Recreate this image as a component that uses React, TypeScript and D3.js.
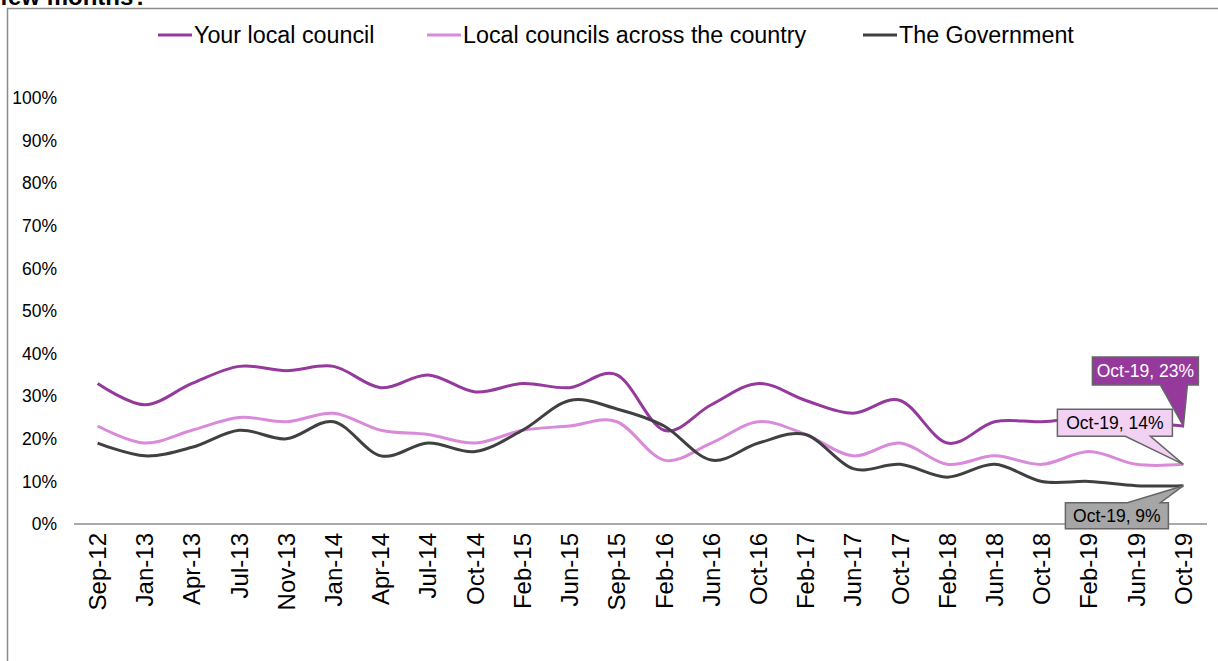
import React from "react";
import * as d3 from "d3";

const categories = ["Sep-12","Jan-13","Apr-13","Jul-13","Nov-13","Jan-14","Apr-14","Jul-14","Oct-14","Feb-15","Jun-15","Sep-15","Feb-16","Jun-16","Oct-16","Feb-17","Jun-17","Oct-17","Feb-18","Jun-18","Oct-18","Feb-19","Jun-19","Oct-19"];
const yourLocalCouncil = [33,28,33,37,36,37,32,35,31,33,32,35,22,28,33,29,26,29,19,24,24,25,24,23];
const localCouncilsCountry = [23,19,22,25,24,26,22,21,19,22,23,24,15,19,24,21,16,19,14,16,14,17,14,14];
const government = [19,16,18,22,20,24,16,19,17,22,29,27,23,15,19,21,13,14,11,14,10,10,9,9];
const yTicks = [0,10,20,30,40,50,60,70,80,90,100];
const seriesNames = ["Your local council","Local councils across the country","The Government"];
const seriesColors = ["#953A9C","#DA8ADB","#404040"];

const W = 1218, H = 661;
const FONT = "'Liberation Sans', Arial, Helvetica, sans-serif";

export default function App() {
  const x = d3.scaleBand().domain(categories).range([74, 1207]);
  const y = d3.scaleLinear().domain([0, 100]).range([524, 98]);
  const cx = (c: string) => (x(c) as number) + x.bandwidth() / 2;
  const line = d3.line<number>()
    .x((_, i) => cx(categories[i]))
    .y((v) => y(v))
    .curve(d3.curveCatmullRom.alpha(0));
  const series = [yourLocalCouncil, localCouncilsCountry, government];
  const last = categories[categories.length - 1];
  const tipX = cx(last);

  const legendX = [158, 427, 863];

  const callouts = [
    { s: 0, dx: -91, dy: -69, w: 106, h: 28, b1: -23, b2: 4, side: "bottom", fill: "#953A9C", color: "#ffffff" },
    { s: 1, dx: -126, dy: -55, w: 115, h: 27, b1: -58, b2: -33, side: "bottom", fill: "#F2D1F2", color: "#000000" },
    { s: 2, dx: -118, dy: 17, w: 103, h: 26, b1: -56, b2: -23, side: "top", fill: "#A6A6A6", color: "#000000" },
  ];

  const calloutPath = (bx: number, by: number, bw: number, bh: number, tx: number, ty: number, x1: number, x2: number, side: string) => {
    if (side === "bottom") {
      return `M${bx},${by}H${bx + bw}V${by + bh}H${x2}L${tx},${ty}L${x1},${by + bh}H${bx}Z`;
    }
    return `M${bx},${by}H${x1}L${tx},${ty}L${x2},${by}H${bx + bw}V${by + bh}H${bx}Z`;
  };

  return (
    <svg width={W} height={H} style={{ position: "fixed", left: 0, top: 0, background: "#fff" }} fontFamily={FONT}>
      <rect x={0} y={0} width={W} height={H} fill="#fff" />
      <text x={0} y={5} fontSize={24} fontWeight="bold" fill="#000">few months?</text>
      <path d={`M7.5,${H}V8.5H${W}`} fill="none" stroke="#8c8c8c" strokeWidth={1.5} />

      {seriesNames.map((n, i) => (
        <g key={n}>
          <line x1={legendX[i]} x2={legendX[i] + 34} y1={35} y2={35} stroke={seriesColors[i]} strokeWidth={3} />
          <text x={legendX[i] + 36} y={35} dy="0.35em" fontSize={23.3} fill="#000">{n}</text>
        </g>
      ))}

      {yTicks.map((t) => (
        <text key={t} x={57} y={y(t)} dy="0.35em" textAnchor="end" fontSize={17.5} fill="#000">{t}%</text>
      ))}

      <line x1={74} x2={1207} y1={y(0)} y2={y(0)} stroke="#8c8c8c" strokeWidth={1.5} />
      {categories.map((c) => (
        <text key={c} transform={`translate(${cx(c)},533) rotate(-90)`} dy="0.35em" textAnchor="end" fontSize={24} fill="#000">{c}</text>
      ))}

      {series.map((s, i) => (
        <path key={i} d={line(s) || ""} fill="none" stroke={seriesColors[i]} strokeWidth={3} strokeLinejoin="round" />
      ))}

      {callouts.map((c) => {
        const v = series[c.s][series[c.s].length - 1];
        const ty = y(v);
        const bx = tipX + c.dx, by = ty + c.dy;
        return (
          <g key={c.s}>
            <path d={calloutPath(bx, by, c.w, c.h, tipX, ty, tipX + c.b1, tipX + c.b2, c.side)} fill={c.fill} stroke="#666" strokeWidth={1.5} />
            <text x={bx + c.w / 2} y={by + c.h / 2} dy="0.35em" textAnchor="middle" fontSize={17.5} fill={c.color}>{`${last}, ${v}%`}</text>
          </g>
        );
      })}
    </svg>
  );
}
